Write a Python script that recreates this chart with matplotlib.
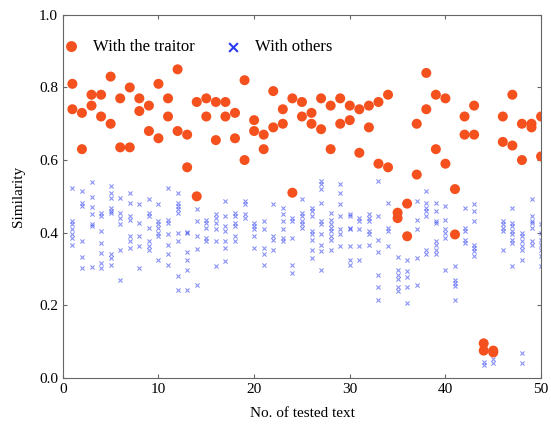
from matplotlib import pyplot as plt

plt.rcParams["font.family"] = ["Liberation Serif", "DejaVu Serif"]

# tested text numbers 1..50
text_no = list(range(1, 51))

# similarity with the traitor, two values per tested text
traitor_a = [0.81, 0.73, 0.78, 0.78, 0.83, 0.77, 0.80, 0.77, 0.75, 0.81,
             0.77, 0.85, 0.67, 0.76, 0.77, 0.76, 0.76, 0.73, 0.82, 0.71,
             0.67, 0.79, 0.74, 0.77, 0.76, 0.73, 0.77, 0.75, 0.77, 0.75,
             0.74, 0.75, 0.76, 0.78, 0.455, 0.48, 0.70, 0.84, 0.78, 0.77,
             0.52, 0.72, 0.75, 0.095, 0.075, 0.72, 0.78, 0.70, 0.70, 0.72]
traitor_b = [0.74, 0.63, 0.75, 0.72, 0.70, 0.635, 0.635, 0.735, 0.68, 0.66,
             0.72, 0.68, 0.58, 0.50, 0.72, 0.655, 0.72, 0.66, 0.60, 0.68,
             0.63, 0.69, 0.70, 0.51, 0.72, 0.70, 0.685, 0.63, 0.70, 0.71,
             0.62, 0.69, 0.59, 0.58, 0.44, 0.39, 0.56, 0.74, 0.63, 0.59,
             0.395, 0.67, 0.67, 0.075, 0.07, 0.65, 0.64, 0.60, 0.69, 0.61]

# similarity with the other texts, per tested text
others = [
    [0.524, 0.432, 0.423, 0.409, 0.395, 0.386, 0.367],
    [0.515, 0.483, 0.474, 0.376, 0.333, 0.303],
    [0.539, 0.497, 0.47, 0.45, 0.423, 0.417, 0.304],
    [0.455, 0.446, 0.404, 0.372, 0.344, 0.316, 0.303],
    [0.528, 0.51, 0.496, 0.469, 0.46, 0.455, 0.34, 0.33, 0.312],
    [0.496, 0.455, 0.441, 0.423, 0.353, 0.27],
    [0.51, 0.483, 0.446, 0.436, 0.39, 0.376, 0.358],
    [0.478, 0.427, 0.39, 0.363, 0.303],
    [0.492, 0.455, 0.446, 0.414, 0.376, 0.363, 0.353],
    [0.478, 0.432, 0.423, 0.414, 0.40, 0.39, 0.326],
    [0.524, 0.436, 0.427, 0.395, 0.367, 0.34, 0.312],
    [0.51, 0.483, 0.474, 0.464, 0.455, 0.40, 0.376, 0.28, 0.243],
    [0.403, 0.40, 0.348, 0.326, 0.298, 0.243],
    [0.464, 0.431, 0.39, 0.354, 0.257],
    [0.436, 0.427, 0.414, 0.386, 0.376],
    [0.45, 0.441, 0.427, 0.409, 0.376, 0.307],
    [0.487, 0.446, 0.418, 0.404, 0.376, 0.358, 0.321],
    [0.455, 0.446, 0.427, 0.418, 0.39, 0.376],
    [0.487, 0.478, 0.45, 0.441],
    [0.427, 0.418, 0.409, 0.39, 0.358],
    [0.432, 0.409, 0.358, 0.34, 0.312],
    [0.478, 0.39, 0.381, 0.353],
    [0.469, 0.45, 0.432, 0.409, 0.386, 0.376],
    [0.441, 0.432, 0.386, 0.312, 0.289],
    [0.492, 0.455, 0.446, 0.432, 0.423, 0.414],
    [0.469, 0.46, 0.446, 0.404, 0.395, 0.381, 0.353, 0.33],
    [0.542, 0.533, 0.519, 0.483, 0.432, 0.423, 0.395, 0.367, 0.349, 0.298],
    [0.455, 0.436, 0.423, 0.414, 0.404, 0.39, 0.381, 0.353],
    [0.533, 0.51, 0.478, 0.446, 0.409, 0.395, 0.363],
    [0.45, 0.446, 0.414, 0.409, 0.363, 0.326, 0.312],
    [0.441, 0.432, 0.409, 0.363, 0.326],
    [0.45, 0.441, 0.432, 0.404, 0.395, 0.367],
    [0.541, 0.446, 0.381, 0.348, 0.284, 0.249, 0.215],
    [0.483, 0.414, 0.404, 0.363],
    [0.334, 0.298, 0.284, 0.271, 0.251, 0.238],
    [0.326, 0.293, 0.279, 0.251, 0.207],
    [0.487, 0.436, 0.409, 0.331, 0.257],
    [0.515, 0.483, 0.469, 0.46, 0.446, 0.353, 0.34],
    [0.483, 0.46, 0.432, 0.427, 0.376, 0.367, 0.353, 0.34],
    [0.474, 0.436, 0.409, 0.40, 0.386, 0.298],
    [0.307, 0.27, 0.261, 0.252, 0.215],
    [0.469, 0.414, 0.404, 0.381, 0.372],
    [0.478, 0.46, 0.432, 0.367, 0.358, 0.349, 0.335],
    [0.044, 0.036],
    [0.052, 0.041],
    [0.432, 0.423, 0.414, 0.404, 0.353],
    [0.469, 0.427, 0.418, 0.404, 0.395, 0.381, 0.372, 0.307],
    [0.399, 0.39, 0.376, 0.363, 0.353, 0.326, 0.069, 0.041],
    [0.492, 0.446, 0.432, 0.427, 0.414, 0.376, 0.367],
    [0.423, 0.399, 0.381, 0.367, 0.353, 0.335, 0.307],
]

others_x = []
others_y = []
for n, vals in zip(text_no, others):
    others_x += [n] * len(vals)
    others_y += vals

fig = plt.figure(figsize=(5.51, 4.25), dpi=100)
ax = fig.add_axes([0.114, 0.111, 0.868, 0.854])

ax.scatter(others_x, others_y, marker="x", s=9, color="#2a3cf0",
           linewidths=0.8, alpha=0.55, label="With others", zorder=2)
ax.scatter(text_no + text_no, traitor_a + traitor_b, marker="o", s=52,
           color="#f4511e", edgecolors="none", label="With the traitor",
           zorder=3)

ax.set_xlim(0, 50)
ax.set_ylim(0, 1.0)
ax.set_xticks([0, 10, 20, 30, 40, 50])
ax.set_yticks([0.0, 0.2, 0.4, 0.6, 0.8, 1.0])
ax.set_yticklabels(["0.0", "0.2", "0.4", "0.6", "0.8", "1.0"])
ax.tick_params(direction="in", top=True, right=True, length=3,
               labelsize=11, color="#666666")
for sp in ax.spines.values():
    sp.set_color("#666666")

ax.set_xlabel("No. of tested text", fontsize=11, labelpad=8)
ax.set_ylabel("Similarity", fontsize=11, labelpad=10)

h, l = ax.get_legend_handles_labels()
leg = ax.legend(h[::-1], l[::-1], ncol=2, frameon=False, loc="upper left",
                bbox_to_anchor=(-0.048, 0.975), fontsize=12,
                handletextpad=0.3, columnspacing=1.3, markerscale=1.0)
leg.legend_handles[0].set_sizes([62])
leg.legend_handles[1].set_sizes([40])
leg.legend_handles[1].set_linewidths([1.5])
leg.legend_handles[1].set_alpha(1)

fig.savefig("out.png", dpi=100)
